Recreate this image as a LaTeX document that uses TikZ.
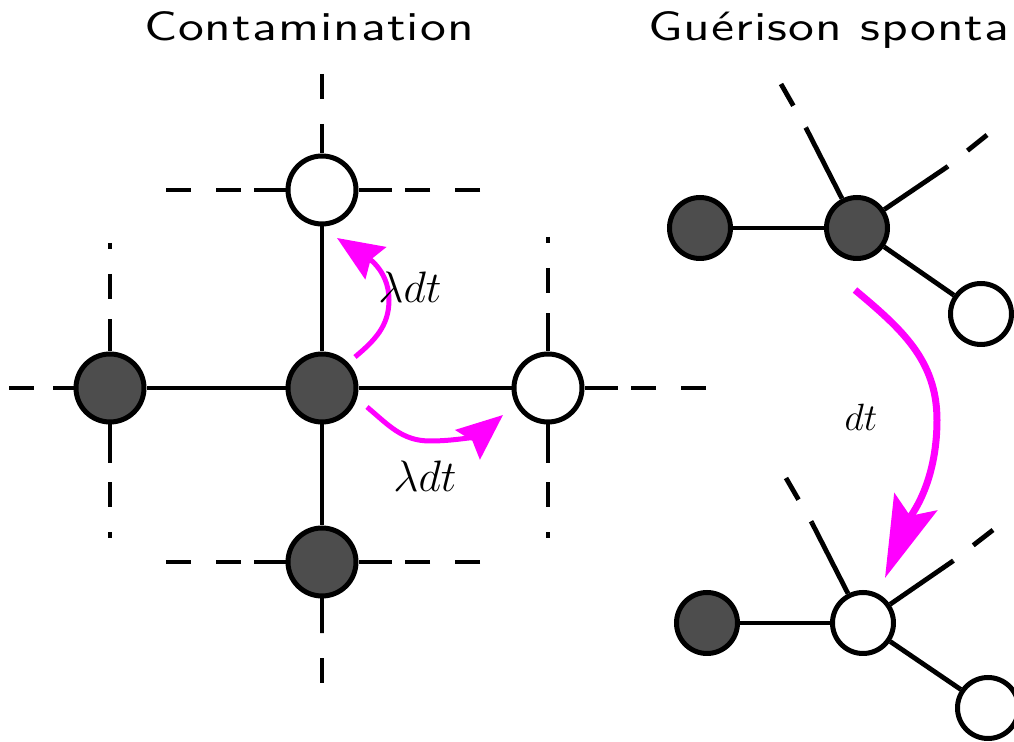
\RequirePackage{fix-cm}
\documentclass[tikz,border=0pt]{standalone}
\usepackage{fontspec}
\usetikzlibrary{arrows.meta}

\newfontfamily\titlefont{lmsans10-regular}[Extension=.otf, LetterSpace=2]
\definecolor{flowmag}{RGB}{255,0,255}
\definecolor{infgray}{RGB}{77,77,77}

\tikzset{
  site/.style={circle, draw, line width=2.5pt, minimum size=34pt, inner sep=0pt},
  inf/.style={site, fill=infgray},
  sus/.style={site, fill=white},
  small/.style={minimum size=30.5pt},
  bond/.style={line width=2.4pt},
  arm/.style={line width=2.4pt, dash pattern=on 12.5pt off 12.5pt},
  armdot/.style={arm, dash phase=9.5pt},
  flow/.style={draw=flowmag, line width=2.5pt,
    -{Stealth[length=23pt, width=19pt, inset=3pt, fill=flowmag]}},
  bigflow/.style={draw=flowmag, line width=3.5pt,
    -{Stealth[length=41pt, width=23pt, inset=7.5pt, fill=flowmag]}},
  title/.style={inner sep=0pt, font=\fontsize{20.5}{24}\titlefont},
  rate/.style={inner sep=0pt, font=\fontsize{22}{26}\selectfont},
  smallrate/.style={inner sep=0pt, font=\fontsize{19}{22}\selectfont},
}

\begin{document}
\begin{tikzpicture}[x=0.5pt, y=0.5pt]
\useasboundingbox (0,0) rectangle (1014,-742);

% titles
\node[title, anchor=base] (ttl1) at (309,-41) {\scalebox{1.26}[1]{Contamination}};
\node[title, anchor=base west] (ttl2) at (648,-41) {\scalebox{1.26}[1]{Guérison sponta}};

% ---- contamination: square lattice ----
\node[inf] (C) at (322,-388) {};
\node[inf] (L) at (110,-388) {};
\node[sus] (R) at (548,-388) {};
\node[sus] (T) at (322,-190) {};
\node[inf] (B) at (322,-562) {};

\draw[bond] (C) -- (L);
\draw[bond] (C) -- (R);
\draw[bond] (C) -- (T);
\draw[bond] (C) -- (B);

% stubs and far ends of the open lattice arms
\coordinate (tUs) at (322,-124);  \coordinate (tUf) at (322,-74);
\coordinate (tLs) at (254,-190);  \coordinate (tLf) at (166,-190);
\coordinate (tRs) at (392,-190);  \coordinate (tRf) at (480,-190);
\coordinate (bLs) at (254,-562);  \coordinate (bLf) at (166,-562);
\coordinate (bRs) at (392,-562);  \coordinate (bRf) at (480,-562);
\coordinate (bDs) at (322,-633);  \coordinate (bDf) at (322,-683);
\coordinate (lLs) at (53,-388);   \coordinate (lLf) at (9,-388);
\coordinate (lUs) at (110,-319);  \coordinate (lUf) at (110,-243);
\coordinate (lDs) at (110,-463);  \coordinate (lDf) at (110,-538);
\coordinate (rUs) at (548,-313);  \coordinate (rUf) at (548,-237);
\coordinate (rDs) at (548,-463);  \coordinate (rDf) at (548,-538);
\coordinate (rRs) at (618,-388);  \coordinate (rRf) at (706,-388);

\foreach \n/\a in {T/tU, T/tL, T/tR, B/bL, B/bR, B/bD, L/lL, R/rR}{
  \draw[bond] (\n) -- (\a s);
  \draw[arm] (\a f) -- (\a s);
}
\foreach \n/\a in {L/lU, L/lD, R/rU, R/rD}{
  \draw[bond] (\n) -- (\a s);
  \draw[armdot] (\a f) -- (\a s);
}

% infection arrows
\draw[flow] (355,-357) to[out=40,in=-90] (389,-300) to[out=90,in=-33] (337,-238);
\draw[flow] (367,-407) to[out=-40,in=180] (430,-441) to[out=0,in=-140] (503,-415);
\node[rate] (r1) at (410,-287) {$\lambda dt$};
\node[rate] (r2) at (425,-476) {$\lambda dt$};

% ---- spontaneous recovery: before ----
\node[inf, small] (A) at (700,-228) {};
\node[inf, small] (D) at (857,-228) {};
\node[sus, small] (E) at (981,-314) {};
\draw[bond] (A) -- (D);
\draw[bond] (D) -- (E);
\coordinate (dLs) at (806,-128); \coordinate (dLf) at (781,-84);
\coordinate (dRs) at (947,-167); \coordinate (dRf) at (987,-135);

% ---- spontaneous recovery: after ----
\node[inf, small] (A2) at (707,-623) {};
\node[sus, small] (F) at (863,-623) {};
\node[sus, small] (G) at (988,-708) {};
\draw[bond] (A2) -- (F);
\draw[bond] (F) -- (G);
\coordinate (fLs) at (812,-523); \coordinate (fLf) at (786,-478);
\coordinate (fRs) at (953,-561); \coordinate (fRf) at (993,-530);

\foreach \n/\a in {D/dL, D/dR, F/fL, F/fR}{
  \draw[bond] (\n) -- (\a s);
  \draw[arm] (\a f) -- (\a s);
}

% recovery arrow
\draw[bigflow] (855,-290) to[out=-40,in=90] (937,-420) to[out=-90,in=68] (885,-578);
\node[smallrate] (r3) at (861,-417) {$dt$};
\end{tikzpicture}
\end{document}
